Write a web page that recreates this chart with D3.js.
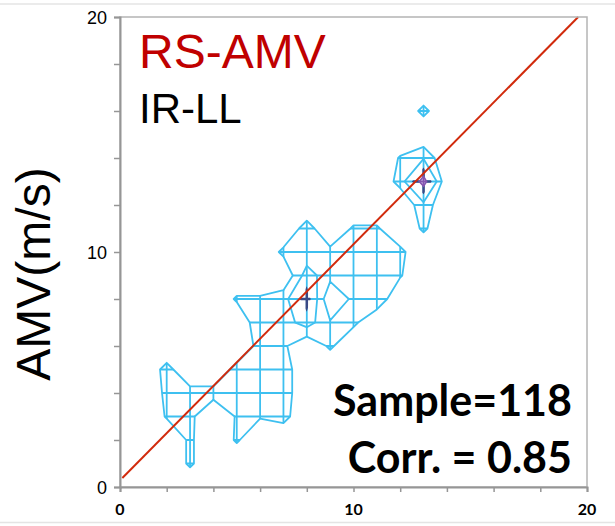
<!DOCTYPE html>
<html>
<head>
<meta charset="utf-8">
<script src="https://cdn.jsdelivr.net/npm/d3@7"></script>
<style>
  body { margin: 0; background: #fff; }
  svg { display: block; }
</style>
</head>
<body>
<svg id="chart" width="615" height="526"></svg>
<script>
'use strict';

// tick labels on both axes
var xTickLabels = [0, 10, 20];
var yTickLabels = [0, 10, 20];
var minorTicks = [0, 2, 4, 6, 8, 10, 12, 14, 16, 18, 20];

// binned density of (x, y) pairs, 1 m/s bins, rows y = 16 .. 1, columns x = 0 .. 14
var densityTopY = 16;
var densityRows = [
    [0, 0, 0, 0, 0, 0, 0, 0, 0, 0, 0, 0, 0, 1.3, 0],
    [0, 0, 0, 0, 0, 0, 0, 0, 0, 0, 0, 0, 0, 0, 0],
    [0, 0, 0, 0, 0, 0, 0, 0, 0, 0, 0, 0, 1.1, 1.9, 0],
    [0, 0, 0, 0, 0, 0, 0, 0, 0, 0, 0, 0, 1.4, 4.6, 0],
    [0, 0, 0, 0, 0, 0, 0, 0, 0, 0, 0, 0, 0, 1.67, 0],
    [0, 0, 0, 0, 0, 0, 0, 0, 1.5, 0, 1.15, 1.15, 0, 1.2, 0],
    [0, 0, 0, 0, 0, 0, 0, 1.25, 1.3, 1.3, 1.3, 1.3, 1.3, 0, 0],
    [0, 0, 0, 0, 0, 0, 0, 0, 2.5, 1.35, 1.3, 1.3, 1.1, 0, 0],
    [0, 0, 0, 0, 0, 1.15, 1.15, 1.6, 3.6, 0, 1.25, 1.8, 0, 0, 0],
    [0, 0, 0, 0, 0, 0, 1.8, 1.5, 2.5, 1.1, 1.25, 0, 0, 0, 0],
    [0, 0, 0, 0, 0, 0, 1.4, 1.2, 0, 1.2, 0, 0, 0, 0, 0],
    [0, 0, 1.4, 0, 0, 1.4, 1.5, 1.6, 0, 0, 0, 0, 0, 0, 0],
    [0, 0, 1.25, 1.4, 1.4, 1.5, 1.5, 1.6, 0, 0, 0, 0, 0, 0, 0],
    [0, 0, 1.1, 1.25, 0, 1.1, 1.1, 1.4, 0, 0, 0, 0, 0, 0, 0],
    [0, 0, 0, 1.2, 0, 1.15, 0, 0, 0, 0, 0, 0, 0, 0, 0],
    [0, 0, 0, 1.2, 0, 0, 0, 0, 0, 0, 0, 0, 0, 0, 0]
];
var contourLevels = [1, 2, 3, 4];

// fitted line
var fitIntercept = 0.28;
var fitSlope = 1.005;
var fitStartX = 0.1;

var sampleText = 'Sample=118';
var corrText = 'Corr. = 0.85';

(function() {
    var svg = d3.select('#chart');
    var W = 615, H = 526;
    var pLeft = 120, pRight = 587, pTop = 17, pBottom = 487;

    var x = d3.scaleLinear().domain([0, 20]).range([pLeft, pRight]);
    var y = d3.scaleLinear().domain([0, 20]).range([pBottom, pTop]);

    svg.append('rect').attr('width', W).attr('height', H).attr('fill', '#fff');

    // faint page rules
    svg.append('line').attr('x1', 0).attr('x2', W).attr('y1', 4).attr('y2', 4)
        .attr('stroke', '#e4e4e4').attr('stroke-width', 1.5);
    svg.append('line').attr('x1', 0).attr('x2', W).attr('y1', 522.5).attr('y2', 522.5)
        .attr('stroke', '#e4e4e4').attr('stroke-width', 1.5);

    //build full 21x21 grid, index = value in m/s
    var n = 21;
    var values = new Array(n * n).fill(0);
    densityRows.forEach(function(row, r) {
        var yy = densityTopY - r;
        row.forEach(function(v, xx) {
            values[yy * n + xx] = v;
        });
    });

    var contours = d3.contours().size([n, n]).thresholds(contourLevels)(values);

    var toScreen = d3.geoTransform({
        point: function(px, py) {
            this.stream.point(x(px - 0.5), y(py - 0.5));
        }
    });
    var path = d3.geoPath(toScreen);

    var defs = svg.append('defs');
    var plot = svg.append('g');

    var lightBlue = '#3ec0f0';
    var navy = '#3a4a86';
    var purple = '#8455b0';

    //grid lines inside a contour (the mesh)
    var drawMesh = function(level, color, width) {
        var id = 'clip' + level;
        defs.append('clipPath').attr('id', id)
            .append('path')
            .attr('d', path(contours[level - 1]))
            .attr('clip-rule', 'evenodd');
        var g = plot.append('g').attr('clip-path', 'url(#' + id + ')');
        d3.range(1, 20).forEach(function(v) {
            g.append('line')
                .attr('x1', x(v)).attr('x2', x(v))
                .attr('y1', y(0)).attr('y2', y(20))
                .attr('stroke', color).attr('stroke-width', width);
            g.append('line')
                .attr('x1', x(0)).attr('x2', x(20))
                .attr('y1', y(v)).attr('y2', y(v))
                .attr('stroke', color).attr('stroke-width', width);
        });
    };

    drawMesh(1, lightBlue, 1.8);

    plot.append('path')
        .attr('d', path(contours[0]))
        .attr('fill', 'none')
        .attr('stroke', lightBlue)
        .attr('stroke-width', 1.8)
        .attr('stroke-linejoin', 'round');

    plot.append('path')
        .attr('d', path(contours[1]))
        .attr('fill', 'none')
        .attr('stroke', lightBlue)
        .attr('stroke-width', 1.8);

    drawMesh(3, navy, 2.5);

    plot.append('path')
        .attr('d', path(contours[3]))
        .attr('fill', '#b9a0d8')
        .attr('stroke', purple)
        .attr('stroke-width', 1.5);
    drawMesh(4, purple, 1.5);

    // fitted line
    var fitEndX = (20 - fitIntercept) / fitSlope;
    plot.append('line')
        .attr('x1', x(fitStartX)).attr('y1', y(fitIntercept + fitSlope * fitStartX))
        .attr('x2', x(fitEndX)).attr('y2', y(20))
        .attr('stroke', '#d12a0c')
        .attr('stroke-width', 2);

    // frame
    svg.append('rect')
        .attr('x', pLeft).attr('y', pTop)
        .attr('width', pRight - pLeft).attr('height', pBottom - pTop)
        .attr('fill', 'none')
        .attr('stroke', '#b4b4b4')
        .attr('stroke-width', 1.5);

    // axes
    var xAxis = d3.axisBottom(x).tickValues(minorTicks).tickSize(5).tickFormat('');
    var yAxis = d3.axisLeft(y).tickValues(minorTicks).tickSize(6).tickFormat('');

    var gx = svg.append('g').attr('transform', 'translate(0,' + pBottom + ')').call(xAxis);
    var gy = svg.append('g').attr('transform', 'translate(' + pLeft + ',0)').call(yAxis);
    [gx, gy].forEach(function(g) {
        g.select('.domain').attr('stroke', '#969696').attr('stroke-width', 2);
        g.selectAll('.tick line').attr('stroke', '#969696').attr('stroke-width', 1.5);
    });

    svg.selectAll('.xlab')
        .data(xTickLabels)
        .enter().append('text')
        .attr('x', function(d) { return x(d); })
        .attr('y', 515)
        .attr('text-anchor', 'middle')
        .style('font-family', 'Lato, "Open Sans", sans-serif')
        .style('font-weight', 'bold')
        .style('font-size', '16px')
        .text(function(d) { return d; });

    svg.selectAll('.ylab')
        .data(yTickLabels)
        .enter().append('text')
        .attr('x', 107)
        .attr('y', function(d) { return y(d) + 6.5; })
        .attr('text-anchor', 'end')
        .style('font-family', '"Liberation Sans", Arial, sans-serif')
        .style('font-size', '18px')
        .text(function(d) { return d; });

    // axis title
    svg.append('text')
        .attr('transform', 'translate(50,274) rotate(-90)')
        .attr('text-anchor', 'middle')
        .style('font-family', '"Liberation Sans", Arial, sans-serif')
        .style('font-size', '48px')
        .text('AMV(m/s)');

    svg.append('text')
        .attr('x', 139).attr('y', 68)
        .attr('fill', '#c00000')
        .style('font-family', '"Liberation Sans", Arial, sans-serif')
        .style('font-size', '48px')
        .text('RS-AMV');

    svg.append('text')
        .attr('x', 139).attr('y', 123)
        .attr('fill', '#000')
        .style('font-family', '"Liberation Sans", Arial, sans-serif')
        .style('font-size', '42px')
        .text('IR-LL');

    svg.append('text')
        .attr('x', 572).attr('y', 416)
        .attr('text-anchor', 'end')
        .style('font-family', 'Lato, "Open Sans", sans-serif')
        .style('font-weight', 'bold')
        .style('font-size', '43px')
        .text(sampleText);

    svg.append('text')
        .attr('x', 572).attr('y', 473)
        .attr('text-anchor', 'end')
        .style('font-family', 'Lato, "Open Sans", sans-serif')
        .style('font-weight', 'bold')
        .style('font-size', '43px')
        .text(corrText);
})();
</script>
</body>
</html>
